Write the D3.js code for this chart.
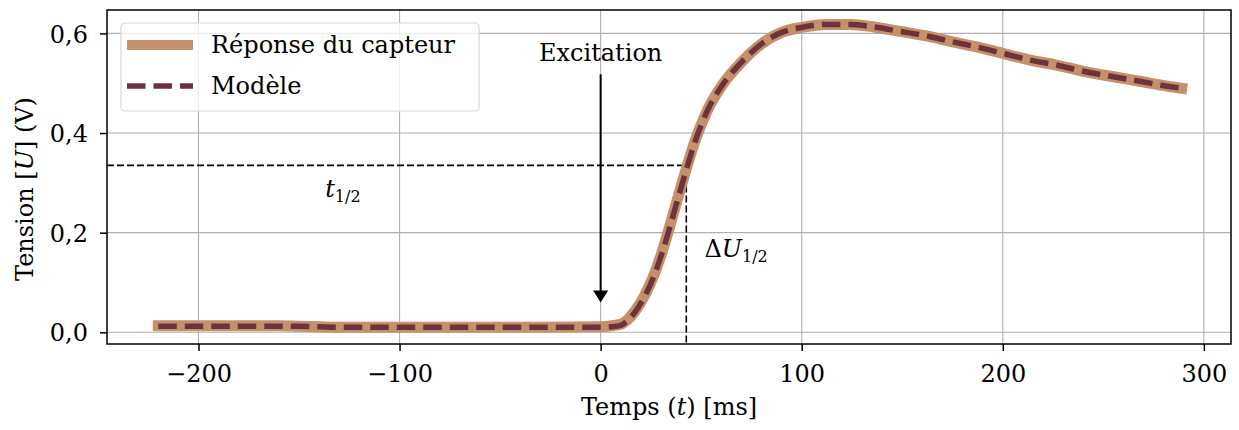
<!DOCTYPE html>
<html>
<head>
<meta charset="utf-8">
<script src="https://cdn.jsdelivr.net/npm/d3@7"></script>
<style>
  body { margin: 0; background: white; }
  text { font-family: "DejaVu Serif", serif; }
</style>
</head>
<body>
<div id="chart"></div>
<script>
// Time (ms) and voltage (V)
var times = [-220, -200, -180, -160, -150, -140, -130, -120, -100, -50, 0, 5, 10, 13, 17, 22, 27, 32, 37, 42, 47, 53, 61, 70, 80, 90, 100, 112, 124, 136, 149, 162, 174, 187, 200, 213, 226, 240, 255, 268, 282, 289];
var sensor = [0.013, 0.013, 0.013, 0.013, 0.012, 0.011, 0.010, 0.010, 0.010, 0.010, 0.011, 0.013, 0.016, 0.024, 0.042, 0.075, 0.12, 0.18, 0.25, 0.32, 0.385, 0.445, 0.499, 0.542, 0.579, 0.602, 0.612, 0.618, 0.618, 0.613, 0.604, 0.595, 0.584, 0.573, 0.560, 0.547, 0.537, 0.524, 0.513, 0.504, 0.494, 0.490];
var model = [0.012, 0.012, 0.012, 0.012, 0.012, 0.011, 0.010, 0.010, 0.010, 0.010, 0.010, 0.011, 0.014, 0.022, 0.040, 0.073, 0.118, 0.178, 0.248, 0.318, 0.383, 0.444, 0.499, 0.542, 0.579, 0.602, 0.612, 0.618, 0.618, 0.613, 0.604, 0.595, 0.584, 0.573, 0.560, 0.547, 0.537, 0.524, 0.513, 0.504, 0.494, 0.490];
var xTicks = [-200, -100, 0, 100, 200, 300];
var yTicks = [0.0, 0.2, 0.4, 0.6];
var tHalf = 42.6;
var uHalf = 0.335;
var excitation = { t: 0, from: 0.518, to: 0.06 };

var width = 1239, height = 430;
var margin = { top: 10, right: 8, bottom: 86, left: 107 };
var w = width - margin.left - margin.right;
var h = height - margin.top - margin.bottom;

var tan = "#c4916a";
var dark = "#6c333d";

var svg = d3.select("#chart").append("svg")
    .attr("width", width)
    .attr("height", height);

var g = svg.append("g")
    .attr("transform", "translate(" + margin.left + "," + margin.top + ")");

var x = d3.scaleLinear().domain([-245.5, 313.5]).range([0, w]);
var y = d3.scaleLinear().domain([-0.0235, 0.647]).range([h, 0]);

// clip for the curves
svg.append("defs").append("clipPath").attr("id", "clip")
    .append("rect").attr("width", w).attr("height", h);

// grid
g.selectAll(".gx").data(xTicks).enter().append("line")
    .attr("x1", d => x(d)).attr("x2", d => x(d))
    .attr("y1", 0).attr("y2", h)
    .attr("stroke", "#b0b0b0").attr("stroke-width", 1.1);
g.selectAll(".gy").data(yTicks).enter().append("line")
    .attr("x1", 0).attr("x2", w)
    .attr("y1", d => y(d)).attr("y2", d => y(d))
    .attr("stroke", "#b0b0b0").attr("stroke-width", 1.1);

// half-rise guides
g.append("line")
    .attr("x1", 0).attr("x2", x(tHalf))
    .attr("y1", y(uHalf)).attr("y2", y(uHalf))
    .attr("stroke", "black").attr("stroke-width", 1.6)
    .attr("stroke-dasharray", "7,3");
g.append("line")
    .attr("x1", x(tHalf)).attr("x2", x(tHalf))
    .attr("y1", y(uHalf)).attr("y2", h)
    .attr("stroke", "black").attr("stroke-width", 1.6)
    .attr("stroke-dasharray", "7,3");

// curves
var line = d3.line()
    .x(d => x(d[0]))
    .y(d => y(d[1]))
    .curve(d3.curveMonotoneX);

var curves = g.append("g").attr("clip-path", "url(#clip)");
curves.append("path")
    .datum(times.map((t, i) => [t, sensor[i]]))
    .attr("d", line)
    .attr("fill", "none")
    .attr("stroke", tan)
    .attr("stroke-width", 11)
    .attr("stroke-linecap", "square")
    .attr("stroke-linejoin", "round");
curves.append("path")
    .datum(times.map((t, i) => [t, model[i]]))
    .attr("d", line)
    .attr("fill", "none")
    .attr("stroke", dark)
    .attr("stroke-width", 5.5)
    .attr("stroke-dasharray", "18.5,8")
    .attr("stroke-linejoin", "round");

// excitation arrow
var ax = x(excitation.t);
g.append("line")
    .attr("x1", ax).attr("x2", ax)
    .attr("y1", y(excitation.from)).attr("y2", y(excitation.to) - 10)
    .attr("stroke", "black").attr("stroke-width", 2);
g.append("path")
    .attr("d", "M" + (ax - 7.5) + "," + (y(excitation.to) - 12) +
        "L" + (ax + 7.5) + "," + (y(excitation.to) - 12) +
        "L" + ax + "," + y(excitation.to) + "Z")
    .attr("fill", "black");

g.append("text")
    .attr("x", ax).attr("y", y(0.545))
    .attr("text-anchor", "middle")
    .style("font-size", "24px")
    .text("Excitation");

// t_1/2 label
var tl = g.append("text")
    .attr("x", x(-137)).attr("y", y(0.271))
    .style("font-size", "24px");
tl.append("tspan").style("font-style", "italic").text("t");
tl.append("tspan").attr("dy", 5).style("font-size", "16px").text("1/2");

// ΔU_1/2 label
var ul = g.append("text")
    .attr("x", x(51.6)).attr("y", y(0.151))
    .style("font-size", "24px");
ul.append("tspan").text("Δ");
ul.append("tspan").style("font-style", "italic").text("U");
ul.append("tspan").attr("dy", 5).style("font-size", "16px").text("1/2");

// axes
var xAxis = d3.axisBottom(x).tickValues(xTicks).tickSize(7).tickPadding(14)
    .tickFormat(d3.format("d"));
var yAxis = d3.axisLeft(y).tickValues(yTicks).tickSize(7).tickPadding(12)
    .tickFormat(d => d3.format(".1f")(d).replace(".", ","));

var gx = g.append("g")
    .attr("transform", "translate(0," + h + ")")
    .call(xAxis);
var gy = g.append("g").call(yAxis);

[gx, gy].forEach(function (a) {
    a.select(".domain").remove();
    a.selectAll(".tick line").attr("stroke", "black").attr("stroke-width", 1.5);
    a.selectAll(".tick text")
        .style("font-family", "DejaVu Serif")
        .style("font-size", "24px")
        .attr("fill", "black");
});
gy.selectAll(".tick text").attr("dy", "0.36em");

// frame
g.append("rect")
    .attr("width", w).attr("height", h)
    .attr("fill", "none")
    .attr("stroke", "black").attr("stroke-width", 1.5);

// axis labels
var xl = svg.append("text")
    .attr("x", margin.left + w / 2).attr("y", 415)
    .attr("text-anchor", "middle")
    .style("font-size", "24px");
xl.append("tspan").text("Temps (");
xl.append("tspan").style("font-style", "italic").text("t");
xl.append("tspan").text(") [ms]");

var yl = svg.append("text")
    .attr("transform", "translate(33,189) rotate(-90)")
    .attr("text-anchor", "middle")
    .style("font-size", "24px");
yl.append("tspan").text("Tension [");
yl.append("tspan").style("font-style", "italic").text("U");
yl.append("tspan").text("] (V)");

// legend
var legend = svg.append("g").attr("transform", "translate(121,23)");
legend.append("rect")
    .attr("width", 358).attr("height", 88)
    .attr("rx", 4).attr("ry", 4)
    .attr("fill", "white").attr("fill-opacity", 0.8)
    .attr("stroke", "#d6d6d6").attr("stroke-width", 1.2);

var entries = [
    { label: "Réponse du capteur", color: tan, width: 10, dash: null, y: 22 },
    { label: "Modèle", color: dark, width: 5.5, dash: "18.5,8", y: 63 }
];
var items = legend.selectAll(".item").data(entries).enter().append("g");
items.append("line")
    .attr("x1", 6).attr("x2", 72)
    .attr("y1", d => d.y).attr("y2", d => d.y)
    .attr("stroke", d => d.color)
    .attr("stroke-width", d => d.width)
    .attr("stroke-dasharray", d => d.dash);
items.append("text")
    .attr("x", 90).attr("y", d => d.y + 8)
    .style("font-size", "24px")
    .text(d => d.label);
</script>
</body>
</html>
